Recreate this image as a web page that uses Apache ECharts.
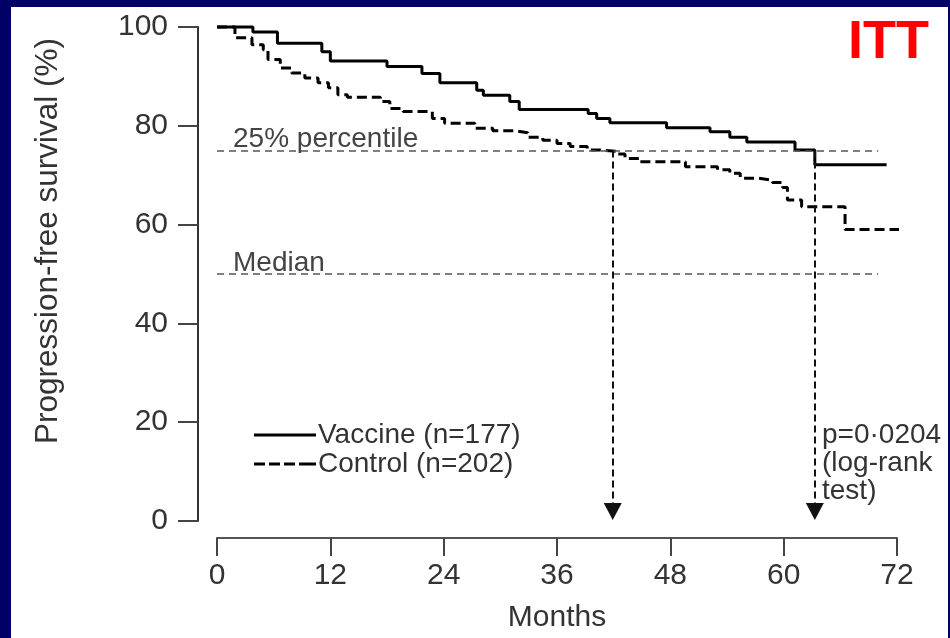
<!DOCTYPE html>
<html><head><meta charset="utf-8">
<script src="https://cdn.jsdelivr.net/npm/echarts@6/dist/echarts.min.js"></script>
<style>html,body{margin:0;padding:0;background:#000066;overflow:hidden}#c{width:950px;height:638px}</style>
</head><body><div id="c"></div><script>
// ---- data ----
const xTicks = [0, 12, 24, 36, 48, 60, 72];
const yTicks = [0, 20, 40, 60, 80, 100];
const vaccineMonths   = [0, 3.8, 6.4, 11.1, 12.0, 18.0, 21.7, 23.6, 27.5, 28.2, 31.0, 32.0, 39.3, 40.2, 41.6, 47.6, 52.2, 54.3, 56.1, 61.2, 63.3, 70.9];
const vaccineSurvival = [100, 99, 96.7, 95, 93.1, 92.0, 90.6, 88.7, 87.2, 86.2, 84.9, 83.3, 82.5, 81.5, 80.6, 79.6, 78.8, 77.7, 76.7, 75.1, 72.1, 72.1];
const controlMonths   = [0, 1.9, 3.7, 4.9, 5.4, 6.7, 7.9, 9.3, 10.7, 11.8, 12.8, 13.8, 17.3, 18.3, 19.7, 22.8, 24.1, 27.3, 29.2, 31.5, 32.9, 34.5, 36.0, 37.4, 39.2, 40.6, 42.4, 43.2, 44.8, 49.6, 53.0, 54.3, 55.4, 57.3, 58.8, 59.9, 60.4, 61.9, 66.5, 72.6];
const controlSurvival = [100, 97.8, 96.4, 95.4, 93.4, 91.7, 90.7, 89.7, 88.7, 87.7, 86.3, 85.8, 84.9, 83.5, 82.9, 81.5, 80.5, 79.5, 79.0, 78.6, 77.7, 77.1, 76.4, 75.8, 75.1, 74.8, 74.3, 73.4, 72.7, 71.7, 71.1, 70.4, 69.4, 69.0, 68.5, 67.5, 65.0, 63.6, 59.0, 59.0];
const seriesNames = ['Vaccine (n=177)', 'Control (n=202)'];
const refLevels = [75, 50];
const refLabels = ['25% percentile', 'Median'];
const refStart = 0, refEnd = 70;
const arrowMonths = [41.9, 63.3];
const arrowFrom = 75, arrowTo = 1.9;
const pText = ['p=0\u00b70204', '(log-rank', 'test)'];

const FONT = '"Liberation Sans", Arial, sans-serif';
const zip = (a, b) => a.map((v, i) => [v, b[i]]);

const markData = [];
refLevels.forEach((lv, i) => {
  markData.push([
    {coord: [refStart, lv], name: refLabels[i], symbol: 'none',
     lineStyle: {color: '#555', width: 1.5, type: [7, 5]},
     label: {show: true, formatter: '{b}', position: 'insideStartTop', distance: [16, -3],
             color: '#444', fontSize: 28, fontFamily: FONT}},
    {coord: [refEnd, lv], symbol: 'none'}
  ]);
});
arrowMonths.forEach(m => {
  markData.push([
    {coord: [m, arrowFrom], symbol: 'none',
     lineStyle: {color: '#111', width: 2, type: [7, 4]}, itemStyle: {color: '#000'}, label: {show: false}},
    {coord: [m, arrowTo], symbol: 'triangle', symbolSize: [18, 17], itemStyle: {color: '#000'}}
  ]);
});

const dashIcon = 'path://M0,0h11v3h-11z M15,0h11v3h-11z M30,0h11v3h-11z M45,0h17v3h-17z';

const chart = echarts.init(document.getElementById('c'), null, {renderer: 'canvas'});
chart.setOption({
  animation: false,
  backgroundColor: '#000066',
  textStyle: {fontFamily: FONT},
  graphic: [
    {type: 'rect', z: -100, silent: true, shape: {x: 11, y: 7, width: 937, height: 631}, style: {fill: '#ffffff'}},
    {type: 'text', x: 48, y: 241, rotation: Math.PI / 2, silent: true,
     style: {text: 'Progression-free survival (%)', fill: '#333', font: '31.5px ' + FONT, align: 'center', verticalAlign: 'middle'}},
    {type: 'text', x: 848, y: 43, silent: true,
     style: {text: 'ITT', fill: '#ff0000', font: 'bold 54px ' + FONT, align: 'left', verticalAlign: 'middle'}},
    {type: 'text', x: 822, y: 421, silent: true,
     style: {text: pText.join('\n'), fill: '#333', font: '28px ' + FONT, lineHeight: 28, align: 'left', verticalAlign: 'top'}}
  ],
  grid: {left: 217, right: 53, top: 27, bottom: 117, containLabel: false, outerBoundsMode: 'none'},
  legend: {
    show: true, orient: 'vertical', left: 249, top: 416, itemWidth: 62, itemHeight: 3, itemGap: 1,
    textStyle: {fontSize: 28, color: '#333', fontFamily: FONT, lineHeight: 28, padding: [0, 0, 0, -3]},
    data: [{name: seriesNames[0], icon: 'rect'}, {name: seriesNames[1], icon: dashIcon}],
    selectedMode: false
  },
  xAxis: {
    type: 'value', min: xTicks[0], max: xTicks[xTicks.length - 1], interval: 12, offset: 17,
    name: 'Months', nameLocation: 'middle', nameGap: 65,
    nameTextStyle: {fontSize: 30, color: '#333', fontFamily: FONT},
    axisLine: {show: true, onZero: false, lineStyle: {color: '#555', width: 2}},
    axisTick: {show: true, length: 18, lineStyle: {color: '#444', width: 2}},
    axisLabel: {show: true, margin: 23, fontSize: 30, color: '#333', fontFamily: FONT},
    splitLine: {show: false}
  },
  yAxis: {
    type: 'value', min: yTicks[0], max: yTicks[yTicks.length - 1], interval: 20, offset: 19,
    axisLine: {show: true, onZero: false, lineStyle: {color: '#333', width: 2}},
    axisTick: {show: true, length: 20, lineStyle: {color: '#444', width: 2}},
    axisLabel: {show: true, margin: 30, fontSize: 30, color: '#333', fontFamily: FONT},
    splitLine: {show: false}
  },
  series: [
    {name: seriesNames[0], type: 'line', step: 'end', symbol: 'none', clip: false,
     data: zip(vaccineMonths, vaccineSurvival),
     lineStyle: {color: '#000', width: 3, type: 'solid'}, itemStyle: {color: '#000'},
     markLine: {silent: true, animation: false, symbol: ['none', 'none'], data: markData}},
    {name: seriesNames[1], type: 'line', step: 'end', symbol: 'none', clip: false,
     data: zip(controlMonths, controlSurvival),
     lineStyle: {color: '#000', width: 3, type: [10, 5]}, itemStyle: {color: '#000'}}
  ]
});
</script></body></html>
